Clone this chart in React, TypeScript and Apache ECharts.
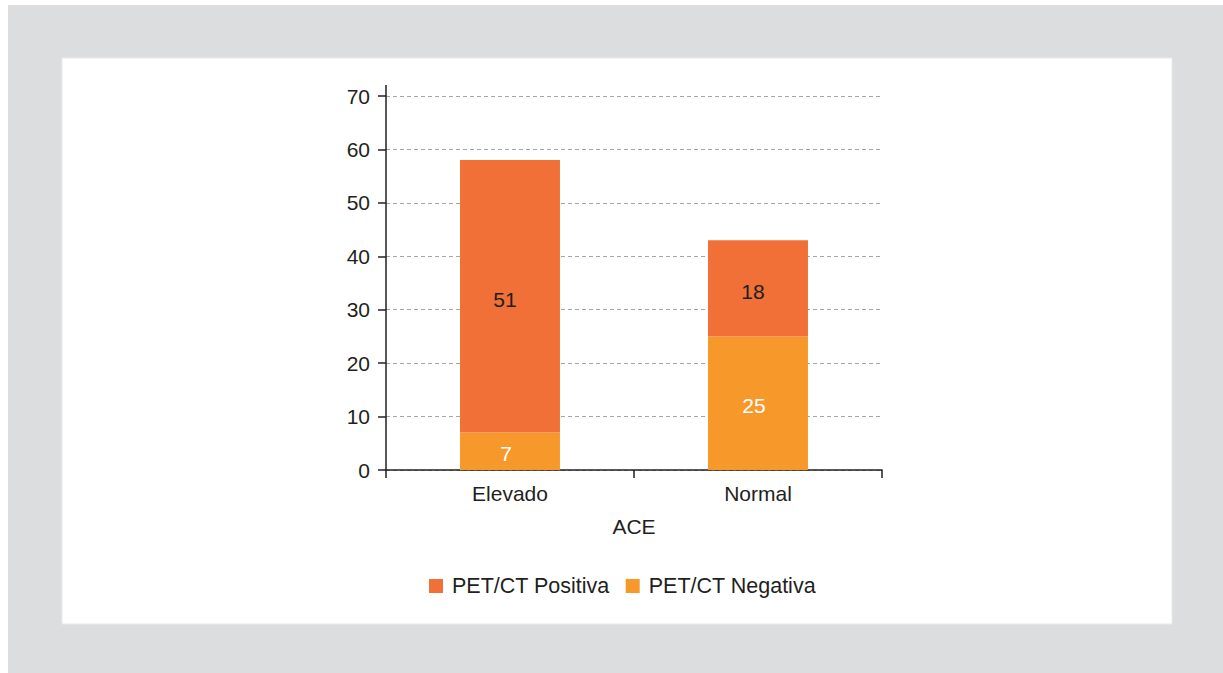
import React, { useEffect, useRef } from "react";
import * as echarts from "echarts";

const categories = ["Elevado", "Normal"];
const positiva = [51, 18];
const negativa = [7, 25];
const seriesNames = ["PET/CT Positiva", "PET/CT Negativa"];
const yTicks = { min: 0, max: 70, interval: 10 };

const FONT = "'Liberation Sans', Arial, Helvetica, sans-serif";
const TEXT = "#231f20";
const FS = 21;

export default function App() {
  const ref = useRef<HTMLDivElement>(null);
  useEffect(() => {
    if (!ref.current) return;
    const chart = echarts.init(ref.current, null, { renderer: "svg" });
    chart.setOption({
      animation: false,
      backgroundColor: "transparent",
      textStyle: { fontFamily: FONT, color: TEXT },
      graphic: [
        { type: "rect", z: -10, silent: true, shape: { x: 8, y: 5, width: 1215, height: 668 }, style: { fill: "#dcdddf" } },
        { type: "rect", z: -9, silent: true, shape: { x: 62, y: 58, width: 1110, height: 566 }, style: { fill: "#ffffff", stroke: "#e9e9ea", lineWidth: 1 } },
        { type: "line", z: 10, silent: true, shape: { x1: 386, y1: 85, x2: 386, y2: 96 }, style: { stroke: TEXT, lineWidth: 1.5 } },
      ],
      grid: { left: 386, right: 341, top: 96, bottom: 203, containLabel: false },
      legend: {
        data: seriesNames,
        left: 429,
        top: 575,
        padding: 0,
        itemWidth: 14,
        itemHeight: 14,
        itemGap: 16,
        icon: "rect",
        textStyle: { fontFamily: FONT, fontSize: 21.5, color: TEXT, padding: [0, 0, 0, 4] },
      },
      xAxis: {
        type: "category",
        data: categories,
        boundaryGap: true,
        name: "ACE",
        nameLocation: "middle",
        nameGap: 46,
        nameTextStyle: { fontFamily: FONT, fontSize: FS, color: TEXT },
        axisLine: { show: true, lineStyle: { color: TEXT, width: 1.5 } },
        axisTick: { show: true, alignWithLabel: false, length: 8, lineStyle: { color: TEXT, width: 1.5 } },
        axisLabel: { fontFamily: FONT, fontSize: FS, color: TEXT, margin: 13 },
        splitLine: { show: false },
      },
      yAxis: {
        type: "value",
        min: yTicks.min,
        max: yTicks.max,
        interval: yTicks.interval,
        axisLine: { show: true, lineStyle: { color: TEXT, width: 1.5 } },
        axisTick: { show: true, length: 8, lineStyle: { color: TEXT, width: 1.5 } },
        axisLabel: { fontFamily: FONT, fontSize: FS, color: TEXT, margin: 16 },
        splitLine: { show: true, lineStyle: { color: "#a6a6a6", width: 1, type: [4, 3] } },
      },
      series: [
        {
          name: seriesNames[1],
          type: "bar",
          stack: "total",
          data: negativa,
          barWidth: "40.3%",
          itemStyle: { color: "#f7992a" },
          label: { show: true, position: "inside", offset: [-4, 2], color: "#ffffff", fontFamily: FONT, fontSize: FS },
        },
        {
          name: seriesNames[0],
          type: "bar",
          stack: "total",
          data: positiva,
          barWidth: "40.3%",
          itemStyle: { color: "#f07038" },
          label: { show: true, position: "inside", offset: [-5, 3], color: TEXT, fontFamily: FONT, fontSize: FS },
        },
      ],
    });
    return () => chart.dispose();
  }, []);
  return (
    <div
      ref={ref}
      style={{ position: "fixed", left: 0, top: 0, width: 1223, height: 673, background: "#ffffff" }}
    />
  );
}
